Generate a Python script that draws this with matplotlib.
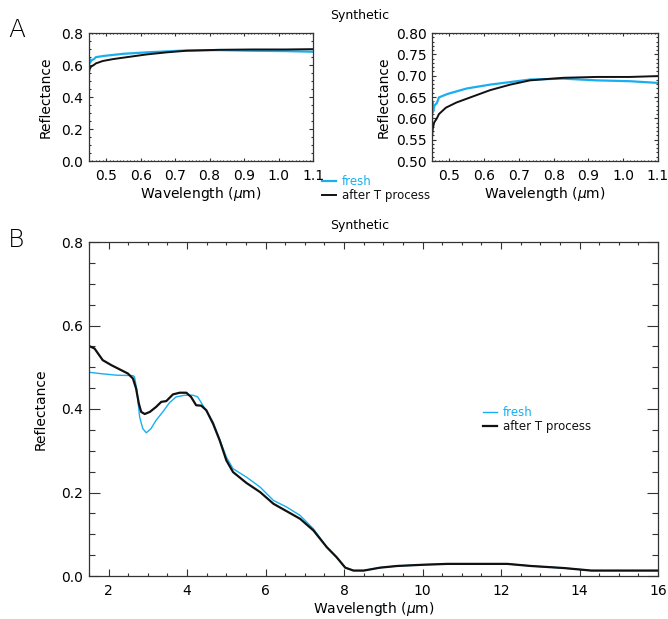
import numpy as np
import matplotlib
matplotlib.use("Agg")
import matplotlib.pyplot as plt
from matplotlib.ticker import MultipleLocator

# ---- Panel A data (VIS, 0.45-1.1 um) ----
vis_wl_fresh = [0.450, 0.451, 0.453, 0.457, 0.464, 0.470, 0.494, 0.550, 0.617, 0.675, 0.732, 0.828, 0.923, 1.019, 1.100]
vis_fresh = [0.590, 0.640, 0.615, 0.630, 0.636, 0.649, 0.657, 0.670, 0.679, 0.685, 0.691, 0.693, 0.689, 0.687, 0.683]
vis_wl_after = [0.450, 0.452, 0.456, 0.464, 0.470, 0.490, 0.520, 0.560, 0.617, 0.675, 0.732, 0.828, 0.923, 1.019, 1.100]
vis_after = [0.555, 0.575, 0.590, 0.600, 0.610, 0.625, 0.637, 0.649, 0.666, 0.679, 0.689, 0.695, 0.697, 0.697, 0.699]

# ---- Panel B data (IR, 1.5-16 um) ----
ir_wl_after = [1.50, 1.64, 1.85, 2.07, 2.28, 2.49, 2.62, 2.70, 2.77, 2.83, 2.92, 3.05, 3.21, 3.34,
               3.47, 3.64, 3.81, 3.98, 4.10, 4.23, 4.36, 4.49, 4.66, 4.83, 5.00, 5.17, 5.51, 5.86,
               6.20, 6.54, 6.88, 7.22, 7.56, 7.81, 8.03, 8.24, 8.50, 8.92, 9.35, 10.03, 10.63,
               11.48, 12.16, 12.76, 13.61, 14.30, 16.00]
ir_after = [0.551, 0.545, 0.517, 0.505, 0.495, 0.485, 0.473, 0.449, 0.413, 0.393, 0.388, 0.393,
            0.405, 0.417, 0.419, 0.435, 0.439, 0.439, 0.429, 0.409, 0.408, 0.397, 0.365, 0.325,
            0.277, 0.249, 0.223, 0.201, 0.173, 0.155, 0.137, 0.109, 0.069, 0.045, 0.020, 0.013,
            0.013, 0.020, 0.024, 0.027, 0.029, 0.029, 0.029, 0.024, 0.019, 0.013, 0.013]
ir_wl_fresh = [1.50, 1.77, 2.20, 2.62, 2.66, 2.72, 2.79, 2.87, 2.96, 3.08, 3.21, 3.38, 3.55, 3.72,
               3.94, 4.15, 4.27, 4.40, 4.66, 5.00, 5.17, 5.51, 5.86, 6.20, 6.54, 6.88, 7.22, 7.56,
               7.81, 8.03, 8.24, 8.50, 8.92, 9.35, 10.03, 10.63, 11.48, 12.16, 12.76, 13.61,
               14.30, 16.00]
ir_fresh = [0.488, 0.485, 0.481, 0.480, 0.477, 0.445, 0.381, 0.353, 0.343, 0.353, 0.373, 0.393,
            0.415, 0.429, 0.433, 0.433, 0.429, 0.409, 0.369, 0.285, 0.257, 0.237, 0.213, 0.181,
            0.165, 0.145, 0.113, 0.069, 0.045, 0.020, 0.013, 0.013, 0.020, 0.024, 0.027, 0.029,
            0.029, 0.029, 0.024, 0.019, 0.013, 0.013]

labels = ["fresh", "after T process"]
title = "Synthetic"

CYAN = "#1AAEF0"
BLACK = "#111111"
SPINE = "#333333"

plt.rcParams['font.family'] = ['DejaVu Sans']
W, H = 668, 619
fig = plt.figure(figsize=(W / 100, H / 100), dpi=100)


def px_axes(x0, y0, x1, y1):
    return fig.add_axes([x0 / W, 1 - y1 / H, (x1 - x0) / W, (y1 - y0) / H])


def style(ax, xmaj, xmin, ymaj, ymin, xlen, ylen, fs):
    ax.xaxis.set_major_locator(MultipleLocator(xmaj))
    ax.xaxis.set_minor_locator(MultipleLocator(xmin))
    ax.yaxis.set_major_locator(MultipleLocator(ymaj))
    ax.yaxis.set_minor_locator(MultipleLocator(ymin))
    ax.tick_params(axis='x', which='major', direction='in', top=True, bottom=True,
                   length=xlen, width=0.8, color=SPINE, labelsize=fs, pad=6)
    ax.tick_params(axis='x', which='minor', direction='in', top=True, bottom=True,
                   length=xlen / 2, width=0.8, color=SPINE)
    ax.tick_params(axis='y', which='major', direction='in', left=True, right=True,
                   length=ylen, width=0.8, color=SPINE, labelsize=fs, pad=4)
    ax.tick_params(axis='y', which='minor', direction='in', left=True, right=True,
                   length=ylen / 2, width=0.8, color=SPINE)
    for s in ax.spines.values():
        s.set_color(SPINE)
        s.set_linewidth(0.9)


# Panel A left
ax1 = px_axes(89, 33, 313, 161)
ax1.plot(vis_wl_fresh, vis_fresh, color=CYAN, lw=1.6)
ax1.plot(vis_wl_after, vis_after, color=BLACK, lw=1.4)
ax1.set_xlim(0.45, 1.1)
ax1.set_ylim(0.0, 0.8)
style(ax1, 0.1, 0.01, 0.2, 0.05, 1.9, 3.2, 10)
ax1.yaxis.set_major_formatter(matplotlib.ticker.FormatStrFormatter('%.1f'))
ax1.xaxis.set_major_formatter(matplotlib.ticker.FormatStrFormatter('%.1f'))
ax1.set_xlabel(r"Wavelength ($\mu$m)", fontsize=10, labelpad=1)
ax1.set_ylabel("Reflectance", fontsize=10, labelpad=6)

# Panel A right
ax2 = px_axes(432, 33, 658, 161)
l1, = ax2.plot(vis_wl_fresh, vis_fresh, color=CYAN, lw=1.6)
l2, = ax2.plot(vis_wl_after, vis_after, color=BLACK, lw=1.4)
ax2.set_xlim(0.45, 1.1)
ax2.set_ylim(0.5, 0.8)
style(ax2, 0.1, 0.01, 0.05, 0.01, 1.9, 3.2, 10)
ax2.yaxis.set_major_formatter(matplotlib.ticker.FormatStrFormatter('%.2f'))
ax2.xaxis.set_major_formatter(matplotlib.ticker.FormatStrFormatter('%.1f'))
ax2.set_xlabel(r"Wavelength ($\mu$m)", fontsize=10, labelpad=1)
ax2.set_ylabel("Reflectance", fontsize=10, labelpad=4)

fig.legend([l1, l2], labels, loc='upper left', bbox_to_anchor=(322 / W, 1 - 175 / H),
           frameon=False, fontsize=8.5, handlelength=1.2, handletextpad=0.5,
           labelspacing=0.1, labelcolor='linecolor', borderpad=0, borderaxespad=0)

fig.text(360 / W, 1 - 16 / H, title, ha='center', va='center', fontsize=9)
fig.text(8 / W, 1 - 30 / H, "A", ha='left', va='center', fontsize=18, fontweight='light')

# Panel B
ax3 = px_axes(89, 242, 658, 576)
b1, = ax3.plot(ir_wl_fresh, ir_fresh, color=CYAN, lw=1.0)
b2, = ax3.plot(ir_wl_after, ir_after, color=BLACK, lw=1.6)
ax3.set_xlim(1.5, 16)
ax3.set_ylim(0.0, 0.8)
style(ax3, 2, 0.5, 0.2, 0.05, 4.8, 8.2, 10)
ax3.yaxis.set_major_formatter(matplotlib.ticker.FormatStrFormatter('%.1f'))
ax3.set_xlabel(r"Wavelength ($\mu$m)", fontsize=10, labelpad=1)
ax3.set_ylabel("Reflectance", fontsize=10, labelpad=10)
ax3.legend([b1, b2], labels, loc='upper left', bbox_to_anchor=(483 / W, 1 - 406 / H),
           bbox_transform=fig.transFigure, frameon=False, fontsize=8.5,
           handlelength=1.2, handletextpad=0.5, labelspacing=0.1,
           labelcolor='linecolor', borderpad=0, borderaxespad=0)

fig.text(360 / W, 1 - 226 / H, title, ha='center', va='center', fontsize=9)
fig.text(8 / W, 1 - 240 / H, "B", ha='left', va='center', fontsize=18, fontweight='light')

fig.savefig("out.png", dpi=100)
